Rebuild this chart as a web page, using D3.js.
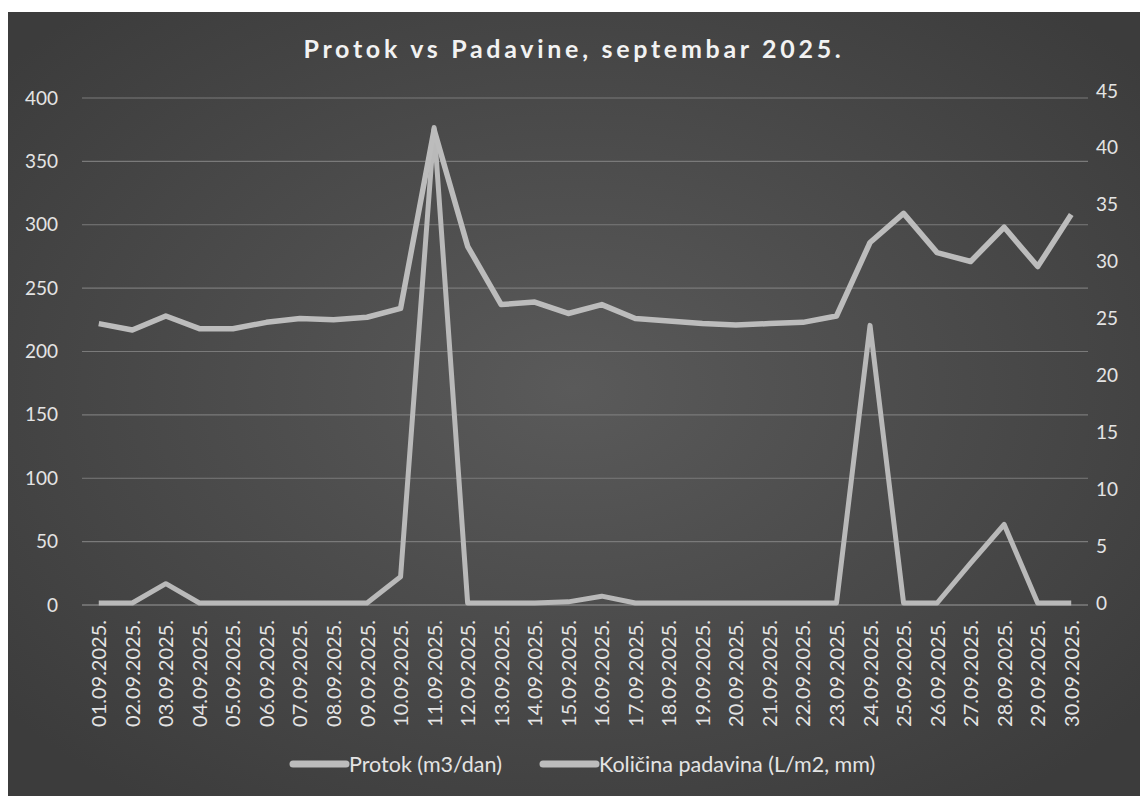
<!DOCTYPE html>
<html>
<head>
<meta charset="utf-8">
<script src="https://cdn.jsdelivr.net/npm/d3@7"></script>
<style>
  html, body { margin: 0; padding: 0; background: #ffffff; }
  svg { display: block; }
  text { font-family: Lato, "Open Sans", sans-serif; }
</style>
</head>
<body>
<svg id="chart" width="1140" height="796"></svg>
<script>
const title = "Protok vs Padavine, septembar 2025.";
const dates = ["01.09.2025.","02.09.2025.","03.09.2025.","04.09.2025.","05.09.2025.","06.09.2025.","07.09.2025.","08.09.2025.","09.09.2025.","10.09.2025.","11.09.2025.","12.09.2025.","13.09.2025.","14.09.2025.","15.09.2025.","16.09.2025.","17.09.2025.","18.09.2025.","19.09.2025.","20.09.2025.","21.09.2025.","22.09.2025.","23.09.2025.","24.09.2025.","25.09.2025.","26.09.2025.","27.09.2025.","28.09.2025.","29.09.2025.","30.09.2025."];
const protok = [222,217,228,218,218,223,226,225,227,234,375,283,237,239,230,237,226,224,222,221,222,223,228,286,309,278,271,298,267,308];
const padavine = [0,0,1.7,0,0,0,0,0,0,2.3,41.8,0,0,0,0.1,0.6,0,0,0,0,0,0,0,24.4,0,0,3.5,6.9,0,0];
const leftTicks = [0,50,100,150,200,250,300,350,400];
const rightTicks = [0,5,10,15,20,25,30,35,40,45];
const seriesNames = ["Protok (m3/dan)", "Količina padavina (L/m2, mm)"];

const svg = d3.select("#chart");
const W = 1140, H = 796;

// background
const defs = svg.append("defs");
const grad = defs.append("radialGradient").attr("id","bg")
  .attr("cx","50%").attr("cy","48%").attr("r","65%");
grad.append("stop").attr("offset","0%").attr("stop-color","#5a5a5a");
grad.append("stop").attr("offset","100%").attr("stop-color","#3c3c3c");
svg.append("rect").attr("x",8).attr("y",12).attr("width",W-8).attr("height",H-12)
  .attr("fill","url(#bg)");

const plotL = 82, plotR = 1088;
const x = d3.scalePoint().domain(dates).range([plotL, plotR]).padding(0.5);
const yL = d3.scaleLinear().domain([0,400]).range([605, 98]);
const yR = d3.scaleLinear().domain([0,45]).range([603, 91]);

// gridlines
svg.append("g").selectAll("line").data(leftTicks).join("line")
  .attr("x1", plotL).attr("x2", plotR)
  .attr("y1", d => yL(d)).attr("y2", d => yL(d))
  .attr("stroke", d => d === 0 ? "#9a9a9a" : "#7a7a7a").attr("stroke-width", 1.2);

// left axis
const axL = svg.append("g").attr("transform", `translate(${plotL},0)`)
  .call(d3.axisLeft(yL).tickValues(leftTicks).tickSize(0).tickPadding(24));
axL.select(".domain").remove();
axL.selectAll("text").attr("fill","#e4e4e4").style("font-size","19px").style("font-family","Lato, sans-serif");

// right axis
const axR = svg.append("g").attr("transform", `translate(${plotR},0)`)
  .call(d3.axisRight(yR).tickValues(rightTicks).tickSize(0).tickPadding(8));
axR.select(".domain").remove();
axR.selectAll("text").attr("fill","#e4e4e4").style("font-size","19px").style("font-family","Lato, sans-serif");

// bottom axis
const axB = svg.append("g").attr("transform", `translate(0,${yL(0)})`)
  .call(d3.axisBottom(x).tickSize(0).tickPadding(0));
axB.select(".domain").remove();
axB.selectAll("text")
  .attr("fill","#e4e4e4").style("font-size","20px").style("font-family","Lato, sans-serif")
  .attr("text-anchor","end").attr("dy","0.35em")
  .attr("transform","translate(0,15) rotate(-90)")
  .attr("x",0).attr("y",0);

// lines
const lineL = d3.line().x((d,i) => x(dates[i])).y(d => yL(d));
const lineR = d3.line().x((d,i) => x(dates[i])).y(d => yR(d));
svg.append("path").datum(padavine).attr("d", lineR)
  .attr("fill","none").attr("stroke","#b9b9b9").attr("stroke-width",5)
  .attr("stroke-linejoin","round");
svg.append("path").datum(protok).attr("d", lineL)
  .attr("fill","none").attr("stroke","#bcbcbc").attr("stroke-width",5.5)
  .attr("stroke-linejoin","round");

// title
svg.append("text").attr("x", 574).attr("y", 58).attr("text-anchor","middle")
  .attr("fill","#f2f2f2").style("font-size","25px").style("font-weight","bold")
  .style("letter-spacing","3.7px").text(title);

// legend
const legY = 764;
const legX = [293, 543];
const leg = svg.append("g").selectAll("g").data(seriesNames).join("g")
  .attr("transform", (d,i) => `translate(${legX[i]},${legY})`);
leg.append("line").attr("x1",0).attr("x2",53).attr("y1",0).attr("y2",0)
  .attr("stroke","#bcbcbc").attr("stroke-width",7).attr("stroke-linecap","round");
leg.append("text").attr("x",56).attr("y",0).attr("dy","0.35em")
  .attr("fill","#e4e4e4").style("font-size","21.5px").text(d => d);
</script>
</body>
</html>
